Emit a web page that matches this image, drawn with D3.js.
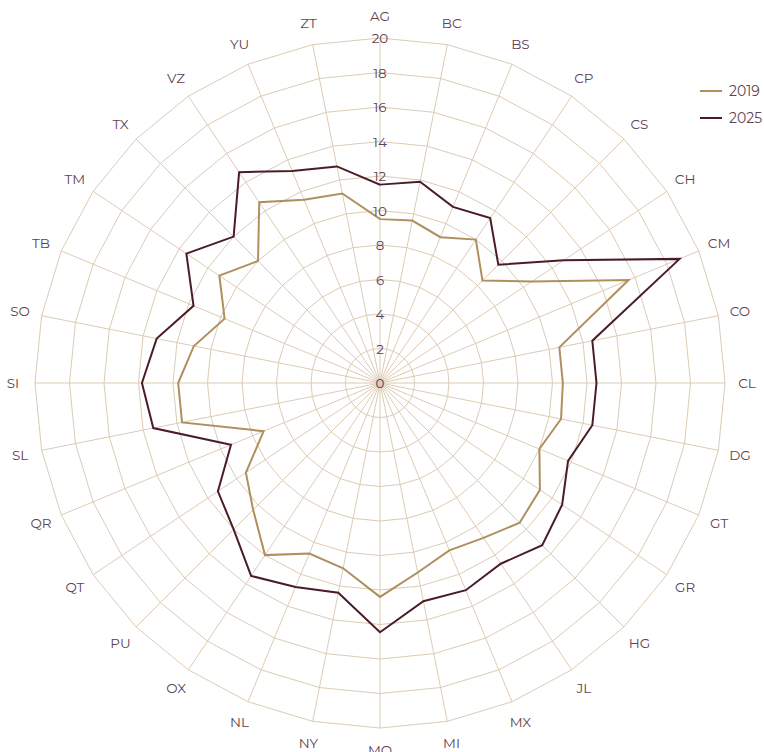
<!DOCTYPE html>
<html><head><meta charset="utf-8">
<script src="https://cdn.jsdelivr.net/npm/d3@7"></script>
<style>body{margin:0;background:#fff;}svg{display:block;font-family:Montserrat,"Open Sans",Lato,sans-serif;}</style>
</head><body>
<svg id="c" width="764" height="752"></svg>
<script>
const categories = ["AG","BC","BS","CP","CS","CH","CM","CO","CL","DG","GT","GR","HG","JL","MX","MI","MO","NY","NL","OX","PU","QT","QR","SL","SI","SO","TB","TM","TX","VZ","YU","ZT"];
const values2019 = [9.5,9.6,9.15,10.0,8.4,10.6,15.6,10.6,10.6,10.7,10.0,11.15,11.45,10.8,10.5,11.2,12.4,10.95,10.7,12.0,10.4,9.35,7.3,11.7,11.7,11.0,9.75,11.2,10.0,12.6,11.5,11.2];
const values2025 = [11.5,11.9,11.05,11.5,9.7,12.8,18.8,12.55,12.55,12.55,11.8,12.7,13.3,12.6,13.0,12.9,14.45,12.4,12.8,13.45,12.0,11.3,9.35,13.4,13.8,13.2,11.7,13.5,12.0,14.7,13.3,12.8];
const seriesNames = ["2019","2025"];
const tickValues = [0,2,4,6,8,10,12,14,16,18,20];

const colors = ["#b08f5e","#4a1c2b"];
const gridColor = "#dccbb4";
const textColor = "#5e4252";
const cx = 380, cy = 383, R = 345;
const svg = d3.select("#c");
const g = svg.append("g").attr("transform", `translate(${cx},${cy})`);
const r = d3.scaleLinear().domain([0,20]).range([0,R]);
const ang = d3.scaleBand().domain(categories).range([0,2*Math.PI]).align(0);
const a = c => ang(c);

// rings (polygonal)
tickValues.filter(v=>v>0).forEach(v=>{
  const pts = categories.map(c=>[r(v)*Math.sin(a(c)), -r(v)*Math.cos(a(c))]);
  g.append("polygon").attr("points", pts.map(p=>p.join(",")).join(" "))
   .attr("fill","none").attr("stroke",gridColor).attr("stroke-width",1);
});
// spokes
categories.forEach(c=>{
  g.append("line").attr("x1",0).attr("y1",0)
   .attr("x2",r(20)*Math.sin(a(c))).attr("y2",-r(20)*Math.cos(a(c)))
   .attr("stroke",gridColor).attr("stroke-width",1);
});
// category labels
categories.forEach(c=>{
  const rr = R + 22;
  g.append("text").attr("x",rr*Math.sin(a(c))).attr("y",-rr*Math.cos(a(c)))
   .attr("text-anchor","middle").attr("dominant-baseline","central")
   .attr("font-size",13.5).attr("fill",textColor).text(c);
});
// series lines
const line = d3.lineRadial().angle((d,i)=>a(categories[i])).radius(d=>r(d)).curve(d3.curveLinearClosed);
[values2019, values2025].forEach((vals,i)=>{
  g.append("path").attr("d", line(vals)).attr("fill","none")
   .attr("stroke",colors[i]).attr("stroke-width",2).attr("stroke-linejoin","miter");
});
// tick labels
tickValues.forEach(v=>{
  g.append("text").attr("x",0).attr("y",-r(v))
   .attr("text-anchor","middle").attr("dominant-baseline","central")
   .attr("font-size",13.5).attr("fill",textColor).text(v);
});
// legend
const lg = svg.append("g").attr("transform","translate(700,91)");
seriesNames.forEach((s,i)=>{
  const y = i*27;
  lg.append("line").attr("x1",0).attr("x2",22).attr("y1",y).attr("y2",y)
    .attr("stroke",colors[i]).attr("stroke-width",2);
  lg.append("text").attr("x",29).attr("y",y).attr("dominant-baseline","central")
    .attr("font-size",14).attr("fill",textColor).text(s);
});
</script>
</body></html>
